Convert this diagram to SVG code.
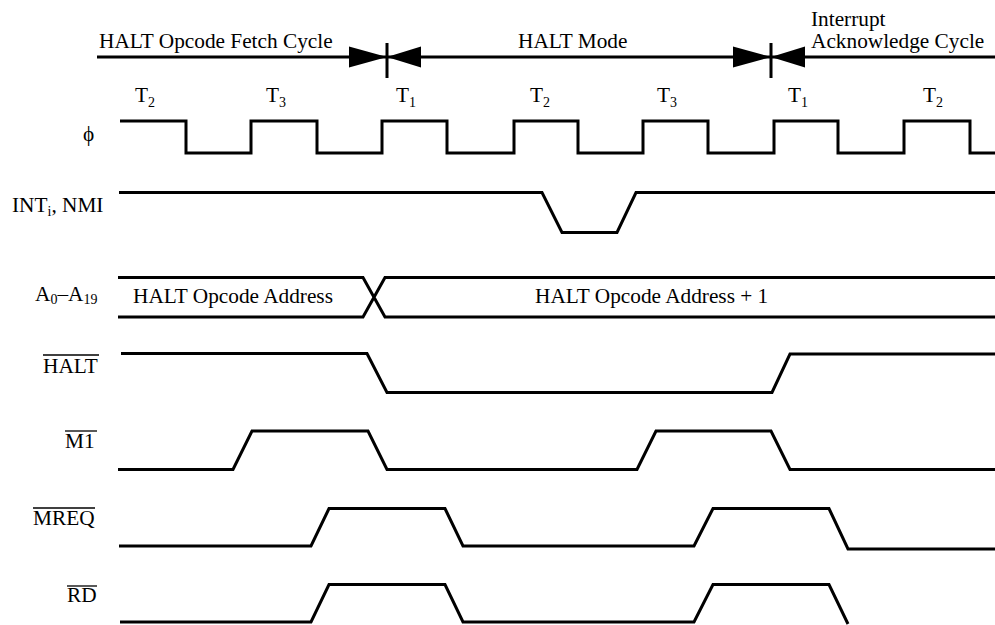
<svg xmlns="http://www.w3.org/2000/svg" width="995" height="625" viewBox="0 0 995 625">
<style>
.t{font-family:'Liberation Serif','Times New Roman',serif;font-size:21.3px;fill:#000}
.sub{font-size:14px}
.sig{fill:none;stroke:#000;stroke-width:3;stroke-linejoin:miter}
.ov{fill:none;stroke:#000;stroke-width:1.3}
</style>
<defs>
<polygon id="ar" points="0,0 -38,-10.5 -38,10.5" fill="#000"/>
<polygon id="al" points="0,0 34,-10.5 34,10.5" fill="#000"/>
</defs>
<rect width="995" height="625" fill="#fff"/>
<g id="phases">
<path class="sig" d="M97,57 H995 M387,43 V78 M771,43 V78"/>
<use href="#ar" x="387" y="57"/>
<use href="#al" x="387" y="57"/>
<use href="#ar" x="771" y="57"/>
<use href="#al" x="771" y="57"/>
<text class="t" x="99" y="48">HALT Opcode Fetch Cycle</text>
<text class="t" x="518" y="48">HALT Mode</text>
<text class="t" x="811" y="26">Interrupt</text>
<text class="t" x="811" y="48">Acknowledge Cycle</text>
</g>
<g id="tstates">
<text class="t" x="135" y="102">T<tspan class="sub" dy="5">2</tspan></text>
<text class="t" x="266" y="102">T<tspan class="sub" dy="5">3</tspan></text>
<text class="t" x="396" y="102">T<tspan class="sub" dy="5">1</tspan></text>
<text class="t" x="530" y="102">T<tspan class="sub" dy="5">2</tspan></text>
<text class="t" x="657" y="102">T<tspan class="sub" dy="5">3</tspan></text>
<text class="t" x="788" y="102">T<tspan class="sub" dy="5">1</tspan></text>
<text class="t" x="923" y="102">T<tspan class="sub" dy="5">2</tspan></text>
</g>
<g id="phi">
<text class="t" x="83" y="141">ϕ</text>
<path class="sig" d="M120,121 H186 V153 H251 V121 H317 V153 H382 V121 H447 V153 H514 V121 H578 V153 H643 V121 H708 V153 H774 V121 H838 V153 H904 V121 H970 V153 H995"/>
</g>
<g id="int">
<text class="t" x="12" y="212">INT<tspan class="sub" dy="4">i</tspan><tspan dy="-4">, NMI</tspan></text>
<path class="sig" d="M119,192.5 H542 L562,232.5 H617 L636,192.5 H995"/>
</g>
<g id="addr">
<text class="t" x="35" y="301">A<tspan class="sub" dy="3">0</tspan><tspan dy="-3">–A</tspan><tspan class="sub" dy="3">19</tspan></text>
<path class="sig" d="M118,277.5 H363 L385,317 H995 M118,317 H363 L385,277.5 H995"/>
<text class="t" x="133" y="303">HALT Opcode Address</text>
<text class="t" x="535" y="303">HALT Opcode Address + 1</text>
</g>
<g id="halt">
<text class="t" x="43" y="373">HALT</text>
<path class="ov" d="M43,355 H99"/>
<path class="sig" d="M121,353.5 H367 L387,392.5 H772 L790,354 H995"/>
</g>
<g id="m1">
<text class="t" x="65" y="448">M1</text>
<path class="ov" d="M65,431 H97"/>
<path class="sig" d="M118,469.5 H233 L252,431 H368 L387,469.5 H637 L656,431 H771 L790,469.5 H995"/>
</g>
<g id="mreq">
<text class="t" x="33" y="525">MREQ</text>
<path class="ov" d="M33,508 H95"/>
<path class="sig" d="M119,546 H311 L329,508.5 H445 L463,546 H694 L713,508.5 H829 L848,549 H995"/>
</g>
<g id="rd">
<text class="t" x="67" y="602">RD</text>
<path class="ov" d="M67,586 H97"/>
<path class="sig" d="M120,622 H311 L329,584.5 H445 L463,622 H694 L713,584.5 H829 L848,624"/>
</g>
</svg>
